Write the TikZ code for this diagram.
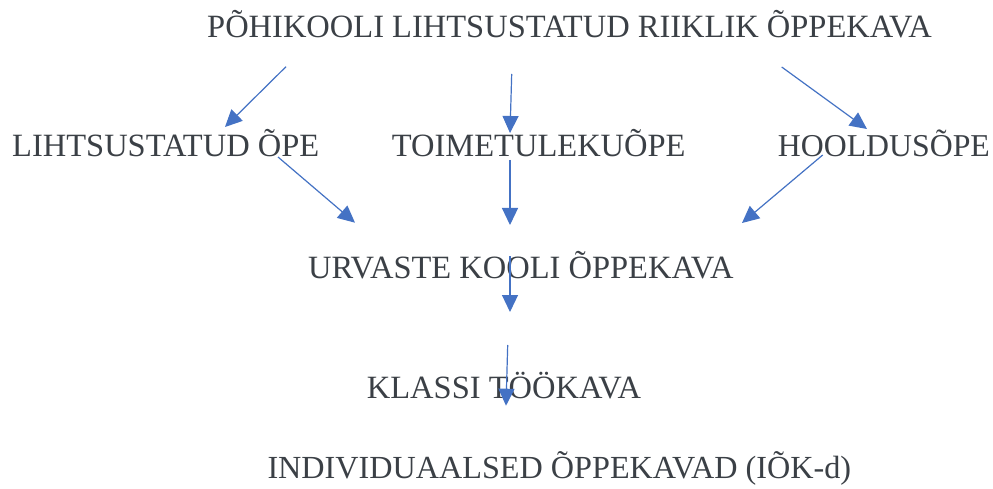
\documentclass[tikz,border=0pt]{standalone}
\usepackage{fontspec}
\setmainfont{Liberation Serif}
\usetikzlibrary{arrows.meta}
\definecolor{txt}{HTML}{3B4046}
\definecolor{arr}{HTML}{4472C4}
\begin{document}
\begin{tikzpicture}[x=1pt,y=-1pt,
  lbl/.style={anchor=base west,inner sep=0pt,text=txt,font=\fontsize{32.5}{38}\selectfont},
  lbls/.style={lbl,font=\fontsize{31.8}{38}\selectfont},
  lblm/.style={lbl,font=\fontsize{32.2}{38}\selectfont},
  conn/.style={draw=arr,line width=1.2pt,-{Triangle[length=17pt,width=16pt]}}]
\useasboundingbox[fill=white] (0,0) rectangle (993,489);
\node[lbl] (top) at (207,37.3) {PÕHIKOOLI LIHTSUSTATUD RIIKLIK ÕPPEKAVA};
\node[lbl] (lo) at (12,156.7) {LIHTSUSTATUD ÕPE};
\node[lbl] (to) at (391.7,156.7) {TOIMETULEKUÕPE};
\node[lbls] (ho) at (777.7,156.7) {HOOLDUSÕPE};
\node[lbl] (uk) at (308,278) {URVASTE KOOLI ÕPPEKAVA};
\node[lbl] (kt) at (366.7,398) {KLASSI TÖÖKAVA};
\node[lblm] (io) at (267.3,478) {INDIVIDUAALSED ÕPPEKAVAD (IÕK-d)};
% arrow end points
\coordinate (a1s) at (286,66.7);  \coordinate (a1e) at (225,127);
\coordinate (a2s) at (511.7,74);  \coordinate (a2e) at (510,133);
\coordinate (a3s) at (781.7,67);  \coordinate (a3e) at (867,129);
\coordinate (a4s) at (278,157);   \coordinate (a4e) at (355,222.7);
\coordinate (a5s) at (510,160);   \coordinate (a5e) at (510,225);
\coordinate (a6s) at (822.7,155); \coordinate (a6e) at (742,223);
\coordinate (a7s) at (510,256);   \coordinate (a7e) at (510,312);
\coordinate (a8s) at (507.7,345); \coordinate (a8e) at (506,405.7);
\foreach \i in {1,...,8} {\draw[conn] (a\i s) -- (a\i e);}
\end{tikzpicture}
\end{document}
